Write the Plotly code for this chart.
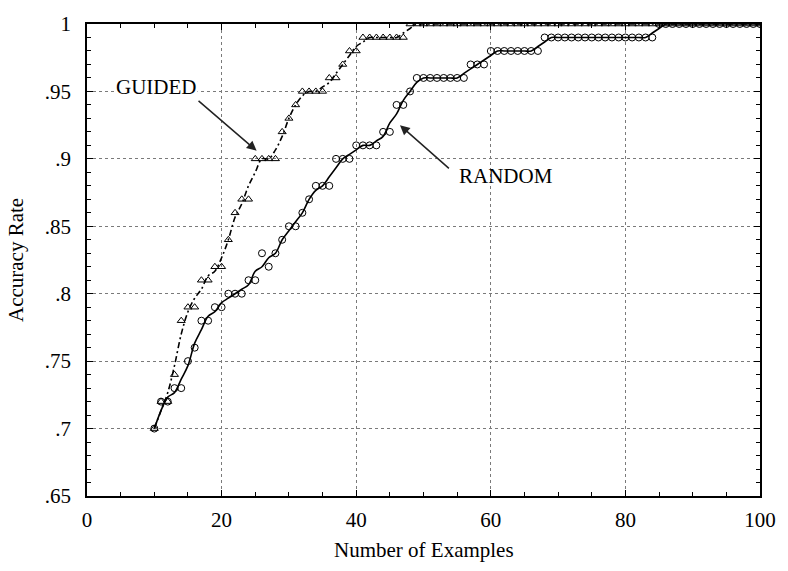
import numpy as np
import plotly.graph_objects as go

# Number of training examples seen
examples = list(range(10, 101))

# Accuracy of the guided learner (triangles)
guided_acc = ([0.70, 0.72, 0.72, 0.74, 0.78, 0.79, 0.79, 0.81, 0.81, 0.82,
               0.82, 0.84, 0.86, 0.87, 0.87, 0.90, 0.90, 0.90, 0.90, 0.92,
               0.93, 0.94, 0.95, 0.95, 0.95, 0.95, 0.96, 0.96, 0.97, 0.98,
               0.98] + [0.99] * 7 + [1.00] * 53)

# Accuracy of the random learner (circles)
random_acc = ([0.70, 0.72, 0.72, 0.73, 0.73, 0.75, 0.76, 0.78, 0.78, 0.79,
               0.79, 0.80, 0.80, 0.80, 0.81, 0.81, 0.83, 0.82, 0.83, 0.84,
               0.85, 0.85, 0.86, 0.87, 0.88, 0.88, 0.88, 0.90, 0.90, 0.90,
               0.91, 0.91, 0.91, 0.91, 0.92, 0.92, 0.94, 0.94, 0.95]
              + [0.96] * 8 + [0.97] * 3 + [0.98] * 8 + [0.99] * 17
              + [1.00] * 16)

y_tickvals = [0.65, 0.70, 0.75, 0.80, 0.85, 0.90, 0.95, 1.00]
y_ticktext = [".65", ".7", ".75", ".8", ".85", ".9", ".95", "1"]
x_tickvals = [0, 20, 40, 60, 80, 100]


def smooth(values, window=3):
    """Centered moving average for the trend curves; end points are kept."""
    v = np.asarray(values, dtype=float)
    half = window // 2
    out = v.copy()
    for i in range(1, len(v) - 1):
        lo, hi = max(0, i - half), min(len(v), i + half + 1)
        out[i] = v[lo:hi].mean()
    return out


FONT = "Liberation Serif, Times New Roman, serif"

fig = go.Figure()

# Trend curves
fig.add_trace(go.Scatter(
    x=examples, y=smooth(random_acc), mode="lines",
    line=dict(color="black", width=1.6, shape="spline", smoothing=1.0),
    hoverinfo="skip", showlegend=False))
fig.add_trace(go.Scatter(
    x=examples, y=smooth(guided_acc), mode="lines",
    line=dict(color="black", width=1.6, shape="spline", smoothing=1.0,
              dash="6px,3px,2px,3px"),
    hoverinfo="skip", showlegend=False))

# Observed points
fig.add_trace(go.Scatter(
    x=examples, y=random_acc, mode="markers", name="RANDOM",
    marker=dict(symbol="circle-open", size=7, color="black",
                line=dict(width=1, color="black")),
    showlegend=False))
fig.add_trace(go.Scatter(
    x=examples, y=guided_acc, mode="markers", name="GUIDED",
    marker=dict(symbol="triangle-up-open", size=7, color="black",
                line=dict(width=1, color="black")),
    showlegend=False))

axis_common = dict(
    showline=True, linecolor="black", linewidth=1.5, mirror="ticks",
    ticks="inside", ticklen=6, tickcolor="black", tickwidth=1,
    showgrid=True, gridcolor="#7a7a7a", griddash="dot", gridwidth=1,
    zeroline=False,
    tickfont=dict(family=FONT, size=21, color="black"),
)

fig.update_xaxes(
    range=[0, 100], tickvals=x_tickvals,
    minor=dict(dtick=5, ticks="inside", ticklen=4, tickcolor="black",
               showgrid=False),
    ticklabelstandoff=4,
    **axis_common)
fig.update_yaxes(
    range=[0.65, 1.0], tickvals=y_tickvals, ticktext=y_ticktext,
    minor=dict(dtick=0.01, ticks="inside", ticklen=4, tickcolor="black",
               showgrid=False),
    ticklabelstandoff=10,
    **axis_common)

annotations = [
    dict(text="GUIDED", x=10.2, y=0.953, xref="x", yref="y",
         showarrow=False, font=dict(family=FONT, size=21, color="black"),
         bgcolor="white"),
    dict(text="", x=25.2, y=0.906, ax=16.35, ay=0.944, axref="x", ayref="y",
         xref="x", yref="y", showarrow=True, arrowhead=2, arrowsize=1.3,
         arrowwidth=1.5, arrowcolor="#222"),
    dict(text="RANDOM", x=62.2, y=0.887, xref="x", yref="y",
         showarrow=False, font=dict(family=FONT, size=21, color="black")),
    dict(text="", x=46.5, y=0.925, ax=54.0, ay=0.892, axref="x", ayref="y",
         xref="x", yref="y", showarrow=True, arrowhead=2, arrowsize=1.3,
         arrowwidth=1.5, arrowcolor="#222"),
    dict(text="Number of Examples", x=0.5, y=0, xref="paper", yref="paper",
         yanchor="middle", yshift=-54, showarrow=False,
         font=dict(family=FONT, size=21, color="black")),
    dict(text="Accuracy Rate", x=0, y=0.5, xref="paper", yref="paper",
         xanchor="center", xshift=-71, textangle=-90, showarrow=False,
         font=dict(family=FONT, size=21, color="black")),
]

fig.update_layout(
    width=788, height=571,
    margin=dict(l=87, r=22, t=13, b=75),
    paper_bgcolor="white", plot_bgcolor="white",
    annotations=annotations,
)

fig.write_html("out.html")
